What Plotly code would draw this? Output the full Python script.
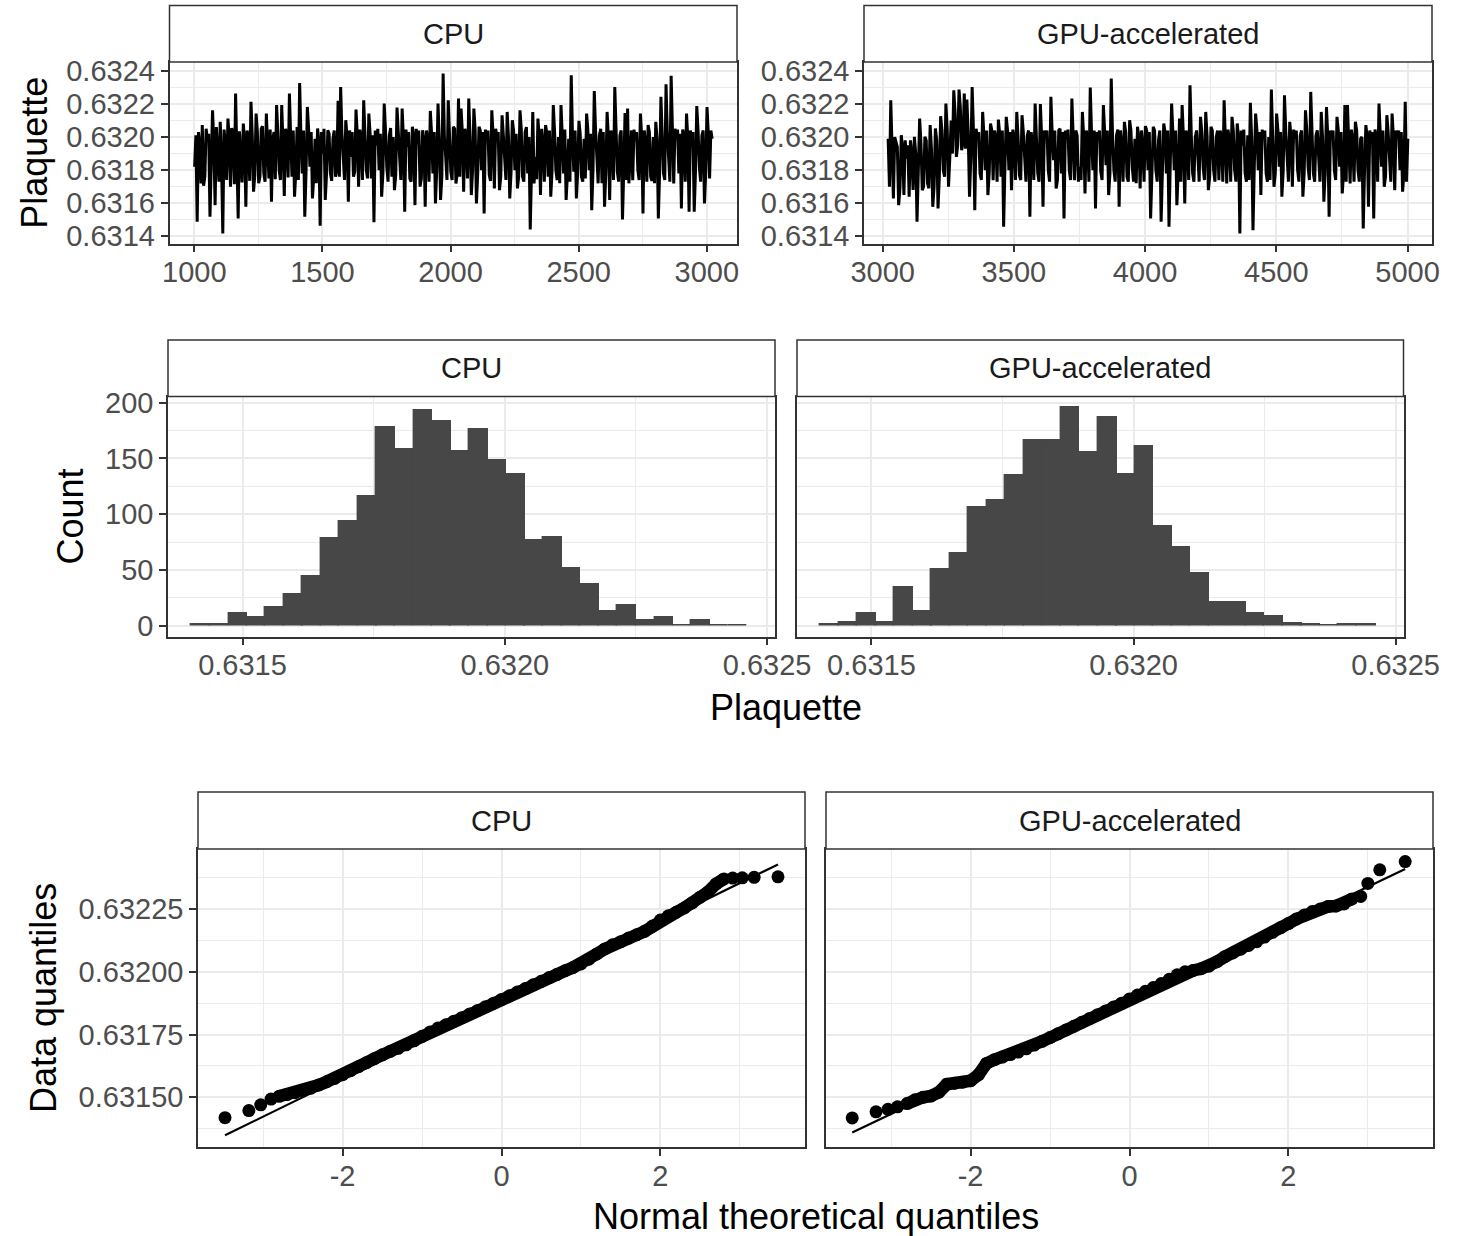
import plotly.graph_objects as go

W, H = 1463, 1236
FONT = "Liberation Sans, Arial, Helvetica, sans-serif"

# ---------------- data ----------------
# Trace plots: Plaquette per sweep, thinned to every 5th sweep.
# Values are stored in micro-units above 0.631 (value = 0.631 + n * 1e-6).
plaquette_base = 0.631
plaquette_unit = 1e-6
cpu_first_sweep = 1001
gpu_first_sweep = 3021
sweep_step = 5
cpu_plaquette_micro = [
    820, 1010, 488, 1030, 950, 720, 1072, 705, 760, 1050, 980, 1020, 518, 830, 1162, 960, 588, 1060, 930, 730,
    1092, 850, 417, 1045, 960, 740, 1112, 1000, 700, 1055, 1020, 715, 1263, 900, 508, 1035, 900, 725, 1082, 980,
    578, 1040, 990, 735, 1213, 1010, 669, 770, 1142, 1030, 720, 760, 1050, 1065, 780, 730, 1142, 990, 750, 1045,
    609, 990, 1030, 745, 1193, 1020, 800, 740, 1193, 960, 643, 1050, 1010, 755, 1263, 1000, 760, 1040, 639, 790,
    1060, 740, 1327, 1010, 780, 1040, 518, 790, 1182, 1050, 820, 1030, 629, 760, 990, 720, 1052, 960, 463, 1030,
    900, 1050, 619, 780, 1041, 1020, 780, 735, 990, 1040, 760, 800, 1219, 760, 1303, 1020, 850, 740, 1102, 1000,
    609, 1040, 880, 1030, 760, 790, 1166, 1010, 699, 1045, 980, 740, 1223, 980, 800, 750, 1142, 1020, 750, 1010,
    484, 1040, 950, 1050, 800, 1020, 639, 780, 1203, 1040, 820, 730, 1010, 1055, 760, 1000, 679, 770, 1178, 1030,
    850, 740, 1172, 990, 548, 1045, 940, 1030, 750, 730, 1062, 1000, 588, 1050, 960, 1040, 700, 750, 1041, 980,
    578, 1040, 980, 730, 1158, 1020, 780, 1030, 598, 800, 1203, 990, 619, 760, 1384, 1000, 880, 740, 1223, 1040,
    790, 740, 1062, 1050, 719, 780, 1233, 760, 1172, 1030, 669, 1050, 1000, 750, 1233, 1000, 649, 800, 1172, 1040,
    598, 780, 1062, 1040, 800, 1030, 538, 1045, 990, 1040, 770, 735, 1162, 1010, 689, 1050, 1000, 1030, 679, 760,
    1132, 1010, 820, 740, 1152, 1000, 629, 780, 1102, 1040, 800, 1020, 689, 760, 1162, 1050, 760, 730, 1030, 1060,
    780, 1000, 441, 820, 1152, 720, 880, 745, 1112, 990, 649, 1050, 960, 730, 1072, 1020, 760, 1040, 639, 790,
    1193, 1030, 800, 740, 1000, 720, 1193, 1010, 780, 1045, 619, 770, 990, 730, 1374, 1000, 790, 1040, 629, 780,
    1098, 1020, 760, 730, 990, 750, 1142, 1040, 800, 1020, 558, 800, 1279, 1040, 840, 720, 1010, 1050, 720, 1030,
    578, 780, 1152, 1000, 619, 1040, 980, 740, 1303, 1020, 790, 730, 1010, 1040, 502, 800, 1146, 740, 1172, 720,
    880, 1040, 739, 1045, 980, 1030, 800, 740, 1142, 1000, 538, 1040, 960, 730, 1072, 1030, 760, 735, 1000, 720,
    1092, 990, 508, 790, 1243, 1020, 780, 740, 1319, 1030, 860, 730, 1370, 1040, 719, 1050, 990, 1045, 780, 1020,
    568, 1045, 1010, 730, 1142, 990, 548, 1040, 980, 1030, 548, 790, 1187, 1040, 820, 730, 1010, 1040, 598, 790,
    1182, 1020, 750, 1040, 990,
]
gpu_plaquette_micro = [
    990, 700, 1223, 960, 629, 1000, 971, 940, 588, 690, 1011, 930, 649, 980, 870, 950, 639, 980, 900, 680,
    1001, 900, 488, 760, 1112, 960, 679, 700, 1001, 980, 720, 690, 1072, 930, 578, 700, 1052, 980, 568, 760,
    1126, 1040, 800, 760, 1203, 1050, 699, 880, 1100, 900, 1283, 1150, 880, 950, 1287, 1180, 921, 960, 1263, 930,
    1227, 1020, 639, 880, 1303, 1040, 558, 1050, 990, 1030, 780, 740, 1152, 1010, 800, 1040, 649, 780, 1082, 1040,
    739, 1040, 1000, 730, 1106, 1020, 760, 1040, 457, 820, 1122, 1040, 800, 1030, 679, 1045, 990, 740, 1152, 1000,
    770, 740, 1132, 1030, 850, 730, 1010, 1040, 518, 1030, 950, 740, 1203, 1010, 780, 730, 1199, 990, 578, 1040,
    990, 1040, 800, 730, 1243, 1020, 860, 1040, 689, 740, 1041, 1050, 780, 1030, 508, 1040, 990, 1045, 800, 740,
    1233, 1000, 739, 1040, 1010, 730, 820, 740, 1152, 1000, 659, 1040, 980, 730, 1299, 1020, 800, 1040, 568, 1030,
    990, 1040, 790, 740, 1193, 1030, 830, 1040, 649, 780, 1354, 1000, 800, 730, 1010, 1045, 578, 1040, 950, 730,
    1092, 1030, 760, 730, 1102, 1040, 820, 730, 990, 720, 1062, 1000, 689, 1040, 950, 730, 1066, 1040, 800, 1030,
    508, 780, 1062, 1040, 800, 730, 980, 1040, 488, 800, 1082, 1030, 780, 1040, 457, 850, 1203, 1020, 800, 1040,
    588, 790, 1112, 730, 1193, 1000, 598, 1040, 990, 740, 1313, 1010, 780, 730, 1000, 1040, 850, 730, 1122, 1030,
    820, 740, 1152, 1010, 679, 760, 1062, 1040, 800, 730, 1000, 1040, 739, 1040, 990, 730, 1223, 1000, 719, 1045,
    980, 730, 1122, 1040, 800, 730, 1082, 990, 417, 1040, 950, 1045, 780, 730, 1010, 740, 1207, 990, 437, 820,
    1142, 1040, 800, 1030, 649, 1045, 990, 1040, 780, 730, 1000, 740, 1287, 1000, 699, 780, 1142, 1040, 820, 1030,
    639, 790, 1253, 1030, 850, 730, 1092, 1000, 699, 1045, 990, 1040, 800, 730, 1010, 1040, 639, 780, 1162, 1040,
    820, 740, 1273, 1020, 780, 730, 1010, 1040, 850, 730, 1152, 1000, 609, 780, 1182, 1000, 518, 1040, 990, 1040,
    800, 740, 1122, 1040, 820, 1030, 659, 780, 1193, 730, 1193, 1000, 719, 1045, 980, 730, 1092, 1040, 800, 730,
    990, 1000, 447, 800, 1072, 1000, 578, 1040, 990, 1030, 508, 1045, 1000, 730, 1203, 1020, 820, 1040, 699, 760,
    1132, 1030, 850, 730, 1142, 1000, 679, 1040, 1000, 1040, 800, 1030, 669, 780, 1213, 730, 990,
]

# Histogram (30 shared bins)
hist_bin_width = 0.0000353
hist_bin_centers = [
    0.631420, 0.631455, 0.631491, 0.631526, 0.631561, 0.631597, 0.631632, 0.631667, 0.631702, 0.631738,
    0.631773, 0.631808, 0.631844, 0.631879, 0.631914, 0.631950, 0.631985, 0.632020, 0.632055, 0.632091,
    0.632126, 0.632161, 0.632197, 0.632232, 0.632267, 0.632303, 0.632338, 0.632373, 0.632408, 0.632444,
]
cpu_counts = [1, 1, 11, 7, 16, 28, 44, 78, 93, 116, 178, 158, 193, 183, 156, 176, 148, 136, 76, 79,
              51, 37, 13, 18, 5, 7, 0, 5, 0, 0]
gpu_counts = [1, 3, 11, 3, 34, 13, 50, 65, 106, 112, 135, 166, 166, 196, 155, 187, 136, 161, 89, 70,
              47, 21, 21, 11, 8, 2, 1, 0, 1, 1]

# QQ plots
cpu_qq_theoretical = [-3.48, -3.18, -3.03, -2.9, -2.8, -2.7, -2.6, -2.5, -2.4, -2.3, -2.2, -2.1, -2.0,
                      -1.9, -1.8, -1.7, -1.6, -1.5, -1.4, -1.3, -1.2, -1.1, -1.0, -0.9, -0.8, -0.7,
                      -0.6, -0.5, -0.4, -0.3, -0.2, -0.1, 0.0, 0.1, 0.2, 0.3, 0.4, 0.5, 0.6, 0.7, 0.8,
                      0.9, 1.0, 1.1, 1.2, 1.3, 1.4, 1.5, 1.6, 1.7, 1.8, 1.9, 2.0, 2.1, 2.2, 2.3, 2.4,
                      2.5, 2.6, 2.7, 2.8, 2.91, 3.03, 3.18, 3.48]
cpu_qq_sample = [0.631419, 0.631447, 0.631470, 0.631493, 0.631504, 0.631511, 0.631518, 0.631525,
                 0.631536, 0.631549, 0.631562, 0.631575, 0.631590, 0.631606, 0.631622, 0.631638,
                 0.631654, 0.631669, 0.631683, 0.631695, 0.631709, 0.631725, 0.631743, 0.631760,
                 0.631776, 0.631789, 0.631803, 0.631817, 0.631832, 0.631846, 0.631861, 0.631875,
                 0.631890, 0.631904, 0.631919, 0.631933, 0.631948, 0.631962, 0.631977, 0.631990,
                 0.632004, 0.632017, 0.632031, 0.632050, 0.632071, 0.632091, 0.632108, 0.632120,
                 0.632134, 0.632147, 0.632161, 0.632182, 0.632206, 0.632223, 0.632237, 0.632254,
                 0.632274, 0.632297, 0.632318, 0.632350, 0.632370, 0.632373, 0.632374, 0.632376,
                 0.632378]
gpu_qq_theoretical = [-3.49, -3.19, -3.04, -2.92, -2.8, -2.7, -2.6, -2.5, -2.4, -2.3, -2.2, -2.1, -2.0,
                      -1.9, -1.8, -1.7, -1.6, -1.5, -1.4, -1.3, -1.2, -1.1, -1.0, -0.9, -0.8, -0.7,
                      -0.6, -0.5, -0.4, -0.3, -0.2, -0.1, 0.0, 0.1, 0.2, 0.3, 0.4, 0.5, 0.6, 0.7, 0.8,
                      0.9, 1.0, 1.1, 1.2, 1.3, 1.4, 1.5, 1.6, 1.7, 1.8, 1.9, 2.0, 2.1, 2.2, 2.3, 2.4,
                      2.5, 2.6, 2.7, 2.8, 2.91, 3.0, 3.15, 3.47]
gpu_qq_sample = [0.631418, 0.631442, 0.631452, 0.631462, 0.631475, 0.631490, 0.631500, 0.631505,
                 0.631520, 0.631552, 0.631556, 0.631560, 0.631566, 0.631590, 0.631635, 0.631650,
                 0.631660, 0.631670, 0.631680, 0.631693, 0.631708, 0.631723, 0.631738, 0.631753,
                 0.631768, 0.631783, 0.631799, 0.631814, 0.631829, 0.631844, 0.631860, 0.631875,
                 0.631892, 0.631907, 0.631922, 0.631937, 0.631953, 0.631970, 0.631988, 0.632000,
                 0.632005, 0.632012, 0.632022, 0.632040, 0.632060, 0.632075, 0.632090, 0.632105,
                 0.632120, 0.632138, 0.632157, 0.632175, 0.632192, 0.632210, 0.632226, 0.632240,
                 0.632250, 0.632260, 0.632262, 0.632270, 0.632290, 0.632300, 0.632352, 0.632406,
                 0.632439]
# qq reference lines: intercept, slope, theoretical extent
cpu_qq_line = (0.631888, 0.000155, -3.48, 3.48)
gpu_qq_line = (0.631886, 0.0001507, -3.49, 3.47)

# tick labels
trace_cpu_xticks = [1000, 1500, 2000, 2500, 3000]
trace_gpu_xticks = [3000, 3500, 4000, 4500, 5000]
trace_yticks = [0.6314, 0.6316, 0.6318, 0.6320, 0.6322, 0.6324]
trace_ytick_text = ["0.6314", "0.6316", "0.6318", "0.6320", "0.6322", "0.6324"]
hist_xticks = [0.6315, 0.6320, 0.6325]
hist_xtick_text = ["0.6315", "0.6320", "0.6325"]
hist_yticks = [0, 50, 100, 150, 200]
qq_xticks = [-2, 0, 2]
qq_yticks = [0.63150, 0.63175, 0.63200, 0.63225]
qq_ytick_text = ["0.63150", "0.63175", "0.63200", "0.63225"]
facet_labels = ["CPU", "GPU-accelerated"]

# ---------------- layout geometry (pixels) ----------------
panels = {
    1: (169.5, 737, 62, 243.5),
    2: (864, 1432, 62, 243.5),
    3: (168, 775, 396.5, 636.5),
    4: (797, 1403.5, 396.5, 636.5),
    5: (198, 805, 849, 1147),
    6: (826, 1433, 849, 1147),
}
strip_top = {1: 5.5, 2: 5.5, 3: 340, 4: 340, 5: 792, 6: 792}


def xd(px):
    return px / W


def yd(py):
    return 1 - py / H


fig = go.Figure()

# trace plots
cpu_sweeps = [cpu_first_sweep + sweep_step * i for i in range(len(cpu_plaquette_micro))]
gpu_sweeps = [gpu_first_sweep + sweep_step * i for i in range(len(gpu_plaquette_micro))]
cpu_plaquette = [plaquette_base + n * plaquette_unit for n in cpu_plaquette_micro]
gpu_plaquette = [plaquette_base + n * plaquette_unit for n in gpu_plaquette_micro]
fig.add_trace(go.Scatter(x=cpu_sweeps, y=cpu_plaquette, mode="lines",
                         line=dict(color="black", width=3.0), xaxis="x", yaxis="y"))
fig.add_trace(go.Scatter(x=gpu_sweeps, y=gpu_plaquette, mode="lines",
                         line=dict(color="black", width=3.0), xaxis="x2", yaxis="y2"))

# histograms
for counts, ax in ((cpu_counts, "3"), (gpu_counts, "4")):
    fig.add_trace(go.Bar(x=hist_bin_centers, y=counts, width=[hist_bin_width] * len(counts),
                         marker=dict(color="#474747", line=dict(width=1.4, color="#474747")),
                         xaxis="x" + ax, yaxis="y" + ax))

# qq plots
for theo, samp, qline, ax in ((cpu_qq_theoretical, cpu_qq_sample, cpu_qq_line, "5"),
                              (gpu_qq_theoretical, gpu_qq_sample, gpu_qq_line, "6")):
    band = [(t, s) for t, s in zip(theo, samp) if abs(t) <= 2.85]
    fig.add_trace(go.Scatter(x=[b[0] for b in band], y=[b[1] for b in band], mode="lines",
                             line=dict(color="black", width=12.5), xaxis="x" + ax, yaxis="y" + ax))
    fig.add_trace(go.Scatter(x=theo, y=samp, mode="markers",
                             marker=dict(color="black", size=13, line=dict(width=0)),
                             xaxis="x" + ax, yaxis="y" + ax))
    b0, b1, t0, t1 = qline
    fig.add_trace(go.Scatter(x=[t0, t1], y=[b0 + b1 * t0, b0 + b1 * t1], mode="lines",
                             line=dict(color="black", width=2.2), xaxis="x" + ax, yaxis="y" + ax))


def axis(pnum, horizontal, rng, tickvals, ticktext, minor_vals):
    x0, x1, y0, y1 = panels[pnum]
    d = dict(
        range=rng, showline=True, linecolor="#333333", linewidth=1.5, mirror=True,
        ticks="outside", ticklen=7, tickwidth=1.5, tickcolor="#333333",
        showgrid=True, gridcolor="#EBEBEB", gridwidth=2, zeroline=False,
        tickmode="array", tickvals=tickvals, ticktext=ticktext,
        tickfont=dict(family=FONT, size=29, color="#4D4D4D"),
        minor=dict(tickmode="array", tickvals=minor_vals, showgrid=True,
                   gridcolor="#EBEBEB", gridwidth=1, ticks=""),
        fixedrange=True, automargin=False,
    )
    suffix = "" if pnum == 1 else str(pnum)
    if horizontal:
        d["domain"] = [xd(x0), xd(x1)]
        d["anchor"] = "y" + suffix
        d["ticklabelstandoff"] = -5
    else:
        d["domain"] = [yd(y1), yd(y0)]
        d["anchor"] = "x" + suffix
    return d


trace_yrange = [0.631356, 0.632454]
trace_yminor = [0.6315, 0.6317, 0.6319, 0.6321, 0.6323]
hist_xrange = [0.631358, 0.632515]
hist_yrange = [-9.8, 205.6]
qq_xrange = [-3.82, 3.82]
qq_yrange = [0.631302, 0.632489]
qq_yminor = [0.631375, 0.631625, 0.631875, 0.632125, 0.632375]

layout_axes = {
    "xaxis": axis(1, True, [903, 3118], trace_cpu_xticks, [str(v) for v in trace_cpu_xticks],
                  [1250, 1750, 2250, 2750]),
    "yaxis": axis(1, False, trace_yrange, trace_yticks, trace_ytick_text, trace_yminor),
    "xaxis2": axis(2, True, [2929, 5093], trace_gpu_xticks, [str(v) for v in trace_gpu_xticks],
                   [3250, 3750, 4250, 4750]),
    "yaxis2": axis(2, False, trace_yrange, trace_yticks, trace_ytick_text, trace_yminor),
    "xaxis3": axis(3, True, hist_xrange, hist_xticks, hist_xtick_text, [0.63175, 0.63225]),
    "yaxis3": axis(3, False, hist_yrange, hist_yticks, [str(v) for v in hist_yticks], [25, 75, 125, 175]),
    "xaxis4": axis(4, True, hist_xrange, hist_xticks, hist_xtick_text, [0.63175, 0.63225]),
    "yaxis4": axis(4, False, hist_yrange, hist_yticks, [str(v) for v in hist_yticks], [25, 75, 125, 175]),
    "xaxis5": axis(5, True, qq_xrange, qq_xticks, [str(v) for v in qq_xticks], [-3, -1, 1, 3]),
    "yaxis5": axis(5, False, qq_yrange, qq_yticks, qq_ytick_text, qq_yminor),
    "xaxis6": axis(6, True, qq_xrange, qq_xticks, [str(v) for v in qq_xticks], [-3, -1, 1, 3]),
    "yaxis6": axis(6, False, qq_yrange, qq_yticks, qq_ytick_text, qq_yminor),
}
for k in ("yaxis4", "yaxis6"):
    layout_axes[k]["showticklabels"] = False
    layout_axes[k]["ticks"] = ""

shapes = []
annotations = []
for p, (x0, x1, y0, y1) in panels.items():
    shapes.append(dict(type="rect", xref="paper", yref="paper",
                       x0=xd(x0), x1=xd(x1), y0=yd(y0), y1=yd(strip_top[p]),
                       fillcolor="white", line=dict(color="#333333", width=1.5), layer="above"))
    annotations.append(dict(xref="paper", yref="paper", x=xd((x0 + x1) / 2),
                            y=yd((y0 + strip_top[p]) / 2), text=facet_labels[(p - 1) % 2],
                            showarrow=False, xanchor="center", yanchor="middle",
                            font=dict(family=FONT, size=29, color="#1A1A1A")))

titles = [
    ("Plaquette", 35, (62 + 243.5) / 2, -90),
    ("Count", 70, (396.5 + 636.5) / 2, -90),
    ("Plaquette", (168 + 1403.5) / 2, 707, 0),
    ("Data quantiles", 43, (849 + 1147) / 2, -90),
    ("Normal theoretical quantiles", (198 + 1433) / 2, 1216, 0),
]
for text, px, py, ang in titles:
    annotations.append(dict(xref="paper", yref="paper", x=xd(px), y=yd(py), text=text,
                            showarrow=False, xanchor="center", yanchor="middle", textangle=ang,
                            font=dict(family=FONT, size=36, color="black")))

fig.update_layout(
    width=W, height=H, margin=dict(l=0, r=0, t=0, b=0, pad=0),
    paper_bgcolor="white", plot_bgcolor="white", showlegend=False,
    bargap=0, shapes=shapes, annotations=annotations, **layout_axes,
)

fig.write_html("out.html", config={"displayModeBar": False},
               post_script="document.body.style.margin='0px';document.body.style.overflow='hidden';")
